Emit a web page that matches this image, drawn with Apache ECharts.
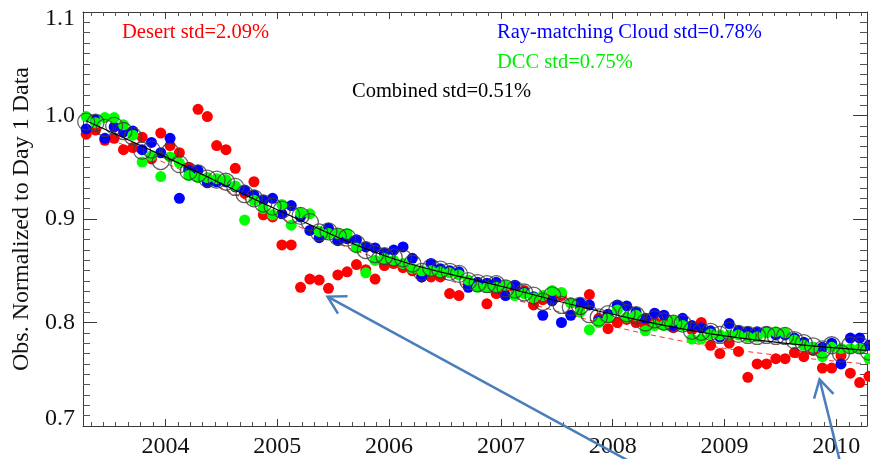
<!DOCTYPE html>
<html>
<head>
<meta charset="utf-8">
<script src="https://cdn.jsdelivr.net/npm/echarts@6/dist/echarts.min.js"></script>
<style>
html, body { margin: 0; padding: 0; background: #ffffff; }
#chart { width: 870px; height: 459px; }
</style>
</head>
<body>
<div id="chart"></div>
<script>
// Monthly samples, April 2003 to April 2010
const months = [
  '2003-04','2003-05','2003-06','2003-07','2003-08','2003-09','2003-10','2003-11','2003-12',
  '2004-01','2004-02','2004-03','2004-04','2004-05','2004-06','2004-07','2004-08','2004-09','2004-10','2004-11','2004-12',
  '2005-01','2005-02','2005-03','2005-04','2005-05','2005-06','2005-07','2005-08','2005-09','2005-10','2005-11','2005-12',
  '2006-01','2006-02','2006-03','2006-04','2006-05','2006-06','2006-07','2006-08','2006-09','2006-10','2006-11','2006-12',
  '2007-01','2007-02','2007-03','2007-04','2007-05','2007-06','2007-07','2007-08','2007-09','2007-10','2007-11','2007-12',
  '2008-01','2008-02','2008-03','2008-04','2008-05','2008-06','2008-07','2008-08','2008-09','2008-10','2008-11','2008-12',
  '2009-01','2009-02','2009-03','2009-04','2009-05','2009-06','2009-07','2009-08','2009-09','2009-10','2009-11','2009-12',
  '2010-01','2010-02','2010-03','2010-04'
];

// Desert target (red)
const desert = [
  0.982,0.986,0.976,0.978,0.967,0.969,0.979,0.958,0.983,0.971,
  0.964,0.950,1.006,0.999,0.971,0.967,0.949,0.925,0.936,0.904,
  0.902,0.875,0.875,0.834,0.842,0.841,0.833,0.846,0.849,0.856,
  0.851,0.842,0.855,0.857,0.853,0.850,0.844,0.844,0.844,0.828,
  0.826,0.838,0.836,0.818,0.828,0.834,0.833,0.831,0.817,0.822,
  0.825,0.826,0.819,0.815,0.827,0.804,0.794,0.800,0.803,0.800,
  0.797,0.801,0.799,0.795,0.800,0.793,0.800,0.778,0.770,0.780,
  0.772,0.747,0.760,0.760,0.765,0.765,0.771,0.767,0.773,0.756,
  0.756,0.768,0.751,0.742,0.748
];

// Ray-matching cloud (blue)
const rayCloud = [
  0.987,0.996,0.978,0.989,0.984,0.985,0.967,0.974,0.964,0.978,
  0.920,0.947,0.947,0.935,0.936,0.936,0.931,0.928,0.923,0.918,
  0.920,0.905,0.913,0.902,0.889,0.882,0.891,0.879,0.881,0.880,
  0.873,0.872,0.867,0.870,0.873,0.862,0.844,0.857,0.852,0.850,
  0.849,0.834,0.839,0.838,0.839,0.826,0.836,0.829,0.825,0.807,
  0.821,0.800,0.807,0.819,0.817,0.802,0.808,0.817,0.816,0.810,
  0.804,0.809,0.807,0.797,0.804,0.797,0.795,0.792,0.786,0.799,
  0.792,0.791,0.791,0.791,0.788,0.788,0.785,0.781,0.776,0.776,
  0.780,0.760,0.785,0.785,0.778
];

// Deep convective clouds (green)
const dcc = [
  0.999,0.993,0.998,0.998,0.991,0.981,0.955,0.961,0.941,0.960,
  0.954,0.942,0.940,0.940,0.939,0.938,0.932,0.899,0.918,0.910,
  0.904,0.914,0.894,0.906,0.905,0.888,0.886,0.886,0.886,0.872,
  0.848,0.860,0.862,0.860,0.857,0.852,0.850,0.850,0.849,0.848,
  0.846,0.841,0.834,0.834,0.834,0.836,0.826,0.828,0.824,0.826,
  0.831,0.829,0.819,0.810,0.793,0.800,0.804,0.812,0.805,0.807,
  0.792,0.797,0.797,0.802,0.797,0.784,0.784,0.789,0.788,0.788,
  0.788,0.786,0.786,0.790,0.791,0.790,0.783,0.778,0.776,0.767,
  0.776,0.775,0.775,0.775,0.765
];

// Combined (open circles)
const combined = [
  0.994,0.993,0.988,0.990,0.985,0.980,0.966,0.967,0.956,0.965,
  0.953,0.946,0.944,0.939,0.938,0.936,0.931,0.924,0.920,0.915,
  0.912,0.909,0.904,0.903,0.897,0.887,0.888,0.883,0.882,0.876,
  0.870,0.866,0.864,0.863,0.862,0.857,0.849,0.853,0.851,0.849,
  0.847,0.840,0.838,0.837,0.837,0.833,0.832,0.829,0.826,0.820,
  0.826,0.817,0.815,0.816,0.808,0.805,0.808,0.813,0.809,0.807,
  0.800,0.803,0.801,0.799,0.799,0.792,0.791,0.791,0.788,0.792,
  0.789,0.788,0.787,0.788,0.787,0.787,0.783,0.780,0.777,0.774,
  0.778,0.770,0.778,0.778,0.772
];

// Fitted trends
const combinedFitYears  = [2003.29, 2004.0, 2005.0, 2006.0, 2007.0, 2008.0, 2009.0, 2010.27];
const combinedFitValues = [0.995, 0.960, 0.909, 0.863, 0.835, 0.808, 0.787, 0.773];
const desertFitYears    = [2003.29, 2004.5, 2005.5, 2006.5, 2007.6, 2008.3, 2009.2, 2010.27];
const desertFitValues   = [0.987, 0.930, 0.878, 0.842, 0.808, 0.789, 0.772, 0.760];

// Axis ranges and labelled ticks
const xRange = [2003.263, 2010.274];
const yRange = [0.7, 1.1];
const yearTicks = [2004, 2005, 2006, 2007, 2008, 2009, 2010];

// Annotation texts
const notes = [
  { text: 'Desert std=2.09%', color: '#ff0000', x: 122, y: 33 },
  { text: 'Ray-matching Cloud std=0.78%', color: '#0000ff', x: 497, y: 33 },
  { text: 'DCC std=0.75%', color: '#00ee00', x: 497, y: 63 },
  { text: 'Combined std=0.51%', color: '#000000', x: 352, y: 92 }
];

// Arrow annotations in data coordinates: [tip, tail]
const arrows = [
  [[2005.45, 0.825], [2008.47, 0.647]],
  [[2009.85, 0.745], [2010.075, 0.647]]
];

function toYear(m) {
  const [y, mo] = m.split('-').map(Number);
  return y + (mo - 0.5) / 12;
}
const t = months.map(toYear);
const pairs = vals => vals.map((v, i) => [t[i], v]);
const zip = (xs, ys) => xs.map((x, i) => [x, ys[i]]);

const FONT = '"Liberation Serif", "DejaVu Serif", serif';
const AXIS_COLOR = '#3a3a3a';

const xBase = {
  type: 'value', min: xRange[0], max: xRange[1], splitNumber: 7,
  splitLine: { show: false },
  axisLine: { show: true, onZero: false, lineStyle: { color: AXIS_COLOR, width: 1 } },
  axisTick: { show: true, inside: true, length: 7, lineStyle: { color: AXIS_COLOR } },
  minorTick: { show: true, splitNumber: 9, length: 4, lineStyle: { color: '#555' } },
  minorSplitLine: { show: false }
};
const yBase = {
  type: 'value', min: yRange[0], max: yRange[1], interval: 0.1,
  splitLine: { show: false },
  axisLine: { show: true, onZero: false, lineStyle: { color: AXIS_COLOR, width: 1 } },
  axisTick: { show: true, inside: true, length: 14, lineStyle: { color: AXIS_COLOR } },
  minorTick: { show: true, splitNumber: 10, length: 7, lineStyle: { color: '#555' } },
  minorSplitLine: { show: false }
};

const chart = echarts.init(document.getElementById('chart'), null, { renderer: 'canvas' });

const dot = (name, data, color, z) => ({
  name, type: 'scatter', data: pairs(data), symbol: 'circle', symbolSize: 11,
  itemStyle: { color, opacity: 1 }, clip: false, z, silent: true
});

chart.setOption({
  animation: false,
  backgroundColor: '#ffffff',
  grid: { left: 83, right: 1, top: 12, bottom: 33 },
  xAxis: [
    Object.assign({}, xBase, {
      position: 'bottom',
      axisLabel: {
        show: true, margin: 9, color: '#111', fontSize: 24, fontFamily: FONT,
        formatter: v => {
          const r = Math.round(v);
          return (Math.abs(v - r) < 1e-6 && yearTicks.includes(r)) ? String(r) : '';
        }
      }
    }),
    Object.assign({}, xBase, { position: 'top', axisLabel: { show: false } })
  ],
  yAxis: [
    Object.assign({}, yBase, {
      position: 'left',
      name: 'Obs. Normalized to Day 1 Data',
      nameLocation: 'middle', nameGap: 46,
      nameTextStyle: { fontSize: 24, fontFamily: FONT, color: '#111' },
      axisLabel: {
        show: true, margin: 8, color: '#111', fontSize: 24, fontFamily: FONT,
        formatter: v => {
          const s = v.toFixed(1);
          if (Math.abs(v - yRange[1]) < 1e-6) return '{top|' + s + '}';
          if (Math.abs(v - yRange[0]) < 1e-6) return '{bot|' + s + '}';
          return s;
        },
        rich: {
          top: { padding: [14, 0, 0, 0], fontSize: 24, fontFamily: FONT, color: '#111' },
          bot: { padding: [0, 0, 14, 0], fontSize: 24, fontFamily: FONT, color: '#111' }
        }
      }
    }),
    Object.assign({}, yBase, { position: 'right', axisLabel: { show: false } })
  ],
  series: [
    {
      name: 'Desert fit', type: 'line', data: zip(desertFitYears, desertFitValues),
      smooth: 0.4, symbol: 'none', z: 1, silent: true,
      lineStyle: { color: '#ff3030', width: 1, type: [5, 4] }
    },
    dot('Desert', desert, '#ff0000', 2),
    dot('Ray-matching Cloud', rayCloud, '#0000ff', 3),
    dot('DCC', dcc, '#00ff00', 4),
    {
      name: 'Combined', type: 'scatter', data: pairs(combined), symbol: 'circle', symbolSize: 17,
      itemStyle: { color: 'rgba(0,0,0,0)', borderColor: '#3c3c3c', borderWidth: 1.3 },
      clip: false, z: 5, silent: true
    },
    {
      name: 'Combined fit', type: 'line', data: zip(combinedFitYears, combinedFitValues),
      smooth: 0.4, symbol: 'none', z: 6, silent: true,
      lineStyle: { color: '#000000', width: 1.2 }
    }
  ]
});

// Annotation texts and arrows
const graphics = notes.map(n => ({
  type: 'text', x: n.x, y: n.y, z: 20,
  style: { text: n.text, fill: n.color, fontSize: 20.5, fontFamily: FONT, align: 'left', verticalAlign: 'middle' }
}));
const ARROW_COLOR = '#4a7ebb';
arrows.forEach(([tipD, tailD]) => {
  const tip = chart.convertToPixel({ gridIndex: 0 }, tipD);
  const tail = chart.convertToPixel({ gridIndex: 0 }, tailD);
  const ang = Math.atan2(tail[1] - tip[1], tail[0] - tip[0]);
  const len = 20, spread = Math.PI / 6;
  const w1 = [tip[0] + len * Math.cos(ang - spread), tip[1] + len * Math.sin(ang - spread)];
  const w2 = [tip[0] + len * Math.cos(ang + spread), tip[1] + len * Math.sin(ang + spread)];
  graphics.push({
    type: 'line', z: 30,
    shape: { x1: tip[0], y1: tip[1], x2: tail[0], y2: tail[1] },
    style: { stroke: ARROW_COLOR, lineWidth: 2.5 }
  });
  graphics.push({
    type: 'polyline', z: 30,
    shape: { points: [w1, tip, w2] },
    style: { stroke: ARROW_COLOR, lineWidth: 2.5, fill: null, lineJoin: 'miter' }
  });
});
chart.setOption({ graphic: graphics });
</script>
</body>
</html>
